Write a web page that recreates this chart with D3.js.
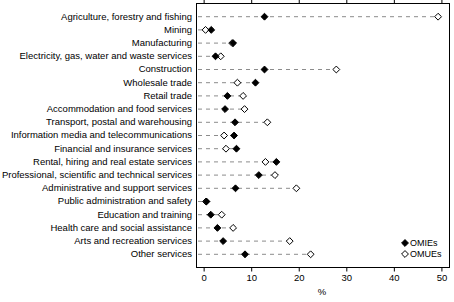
<!DOCTYPE html>
<html>
<head>
<meta charset="utf-8">
<script src="https://cdn.jsdelivr.net/npm/d3@7"></script>
<style>
  body { margin: 0; background: #fff; }
  svg { display: block; font-family: "Liberation Sans", Arial, sans-serif; }
</style>
</head>
<body>
<div id="chart"></div>
<script>
const industries = [
  "Agriculture, forestry and fishing",
  "Mining",
  "Manufacturing",
  "Electricity, gas, water and waste services",
  "Construction",
  "Wholesale trade",
  "Retail trade",
  "Accommodation and food services",
  "Transport, postal and warehousing",
  "Information media and telecommunications",
  "Financial and insurance services",
  "Rental, hiring and real estate services",
  "Professional, scientific and technical services",
  "Administrative and support services",
  "Public administration and safety",
  "Education and training",
  "Health care and social assistance",
  "Arts and recreation services",
  "Other services"
];
const omies = [12.8, 1.6, 6.2, 2.5, 12.8, 10.9, 5.0, 4.5, 6.6, 6.4, 6.9, 15.3, 11.6, 6.7, 0.6, 1.5, 2.9, 4.1, 8.7];
const omues = [49.3, 0.4, 6.0, 3.6, 27.9, 7.1, 8.3, 8.6, 13.4, 4.3, 4.7, 13.0, 15.0, 19.5, 0.5, 3.8, 6.2, 18.1, 22.5];
const xTicks = [0, 10, 20, 30, 40, 50];
const seriesNames = ["OMIEs", "OMUEs"];

const width = 454, height = 302;
const plotLeft = 196, plotRight = 449, plotTop = 3, plotBottom = 267;

const svg = d3.select("#chart").append("svg")
  .attr("width", width)
  .attr("height", height);

const x = d3.scaleLinear().domain([-1.5, 51.7]).range([plotLeft, plotRight]);
const y = d3.scalePoint().domain(industries).range([plotTop, plotBottom]).padding(1);

// dashed guide lines up to the larger value
svg.selectAll("line.guide")
  .data(industries)
  .enter()
  .append("line")
  .attr("class", "guide")
  .attr("x1", plotLeft + 2)
  .attr("x2", (d, i) => x(Math.max(omies[i], omues[i])))
  .attr("y1", d => y(d) + 0.5)
  .attr("y2", d => y(d) + 0.5)
  .attr("stroke", "#8c8c8c")
  .attr("stroke-width", 1)
  .attr("stroke-dasharray", "4,4");

// frame
svg.append("rect")
  .attr("x", plotLeft + 0.5)
  .attr("y", plotTop + 0.5)
  .attr("width", plotRight - plotLeft)
  .attr("height", plotBottom - plotTop)
  .attr("fill", "none")
  .attr("stroke", "#000");

// axes
const bottomAxis = svg.append("g")
  .attr("transform", `translate(0.5,${plotBottom + 0.5})`)
  .call(d3.axisBottom(x).tickValues(xTicks).tickSize(4).tickSizeOuter(0).tickPadding(3));
bottomAxis.select(".domain").remove();
bottomAxis.selectAll("text").attr("font-size", 9.5).attr("font-family", "Liberation Sans, Arial, sans-serif");

const topAxis = svg.append("g")
  .attr("transform", `translate(0.5,${plotTop + 0.5})`)
  .call(d3.axisTop(x).tickValues(xTicks).tickSize(4).tickSizeOuter(0).tickFormat(""));
topAxis.select(".domain").remove();

svg.append("text")
  .attr("x", x(25))
  .attr("y", 295)
  .attr("text-anchor", "middle")
  .attr("font-size", 9.5)
  .text("%");

// category labels
svg.selectAll("text.cat")
  .data(industries)
  .enter()
  .append("text")
  .attr("class", "cat")
  .attr("x", 192)
  .attr("y", d => y(d))
  .attr("dy", "0.35em")
  .attr("text-anchor", "end")
  .attr("font-size", 9.5)
  .text(d => d);

const diamond = d3.symbol().type(d3.symbolDiamond2).size(30);

// OMUEs (open)
svg.selectAll("path.omue")
  .data(industries)
  .enter()
  .append("path")
  .attr("class", "omue")
  .attr("d", diamond)
  .attr("transform", (d, i) => `translate(${x(omues[i]) + 0.5},${y(d) + 0.5})`)
  .attr("fill", "#fff")
  .attr("stroke", "#000")
  .attr("stroke-width", 1);

// OMIEs (filled)
svg.selectAll("path.omie")
  .data(industries)
  .enter()
  .append("path")
  .attr("class", "omie")
  .attr("d", diamond)
  .attr("transform", (d, i) => `translate(${x(omies[i]) + 0.5},${y(d) + 0.5})`)
  .attr("fill", "#000")
  .attr("stroke", "#000")
  .attr("stroke-width", 1);

// legend
const legend = svg.append("g").attr("transform", "translate(405,243)");
seriesNames.forEach((name, i) => {
  const g = legend.append("g").attr("transform", `translate(0,${i * 11})`);
  g.append("path")
    .attr("d", diamond)
    .attr("fill", i === 0 ? "#000" : "#fff")
    .attr("stroke", "#000");
  g.append("text")
    .attr("x", 5)
    .attr("dy", "0.35em")
    .attr("font-size", 9)
    .text(name);
});
</script>
</body>
</html>
